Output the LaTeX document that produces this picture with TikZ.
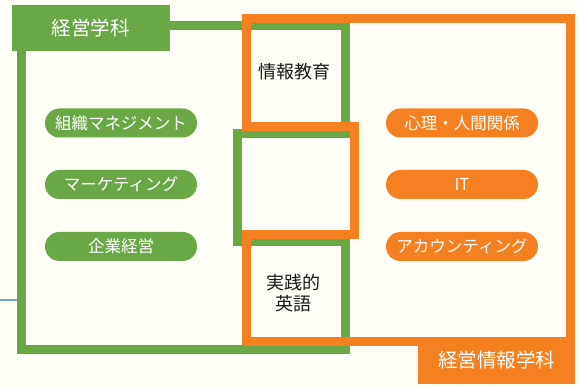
\documentclass[tikz,border=0pt]{standalone}
\usepackage{fontspec}
\setmainfont{Noto Sans CJK JP}
\definecolor{bgcream}{RGB}{254,254,246}
\definecolor{kgreen}{RGB}{106,168,69}
\definecolor{korange}{RGB}{245,128,33}
\definecolor{kblue}{RGB}{120,160,220}

\begin{document}
\begin{tikzpicture}[x=1pt, y=-1pt,
    pill/.style={rounded corners=14.5pt, minimum width=152pt, minimum height=29pt,
                 inner sep=0pt, text=white, font=\fontsize{16.5}{19}\selectfont},
    gpill/.style={pill, fill=kgreen},
    opill/.style={pill, fill=korange},
    dept/.style={inner sep=0pt, text=white, font=\fontsize{19.5}{22}\selectfont},
    common/.style={align=center, text=black!90, font=\fontsize{18}{21}\selectfont}]

    \fill[bgcream] (0,0) rectangle (579,387);
    \useasboundingbox (0,0) rectangle (579,387);

    \draw[kgreen, line width=9pt] (21.5,26) -- (345,26) -- (345,134) -- (237,134)
        -- (237,242) -- (345,242) -- (345,349.5) -- (21.5,349.5) -- cycle;
    \draw[korange, line width=9pt] (246.7,18.7) -- (570.5,18.7) -- (570.5,342)
        -- (246.7,342) -- (246.7,234.5) -- (354.7,234.5) -- (354.7,126.7)
        -- (246.7,126.7) -- cycle;

    \node[dept, fill=kgreen, minimum width=158pt, minimum height=46pt] (keiei) at (91,28) {経営学科};
    \node[dept, fill=korange, minimum width=157pt, minimum height=47pt] (joho) at (496.5,360.5) {経営情報学科};

    \node[gpill] (soshiki) at (121,123) {組織マネジメント};
    \node[gpill] (market) at (121,184.5) {マーケティング};
    \node[gpill] (kigyo) at (121,246.5) {企業経営};

    \node[opill] (shinri) at (462,123) {心理・人間関係};
    \node[opill] (it) at (462,184.5) {IT};
    \node[opill] (account) at (462,246.5) {アカウンティング};

    \node[common] (jkyoiku) at (294,71.5) {情報教育};
    \node[common] (eigo) at (293,293.5) {実践的\\英語};

    \coordinate (stub) at (0,300);
    \coordinate (gedge) at (17,300);
    \draw[kblue, line width=1.5pt] (stub) -- (gedge);

\end{tikzpicture}
\end{document}
